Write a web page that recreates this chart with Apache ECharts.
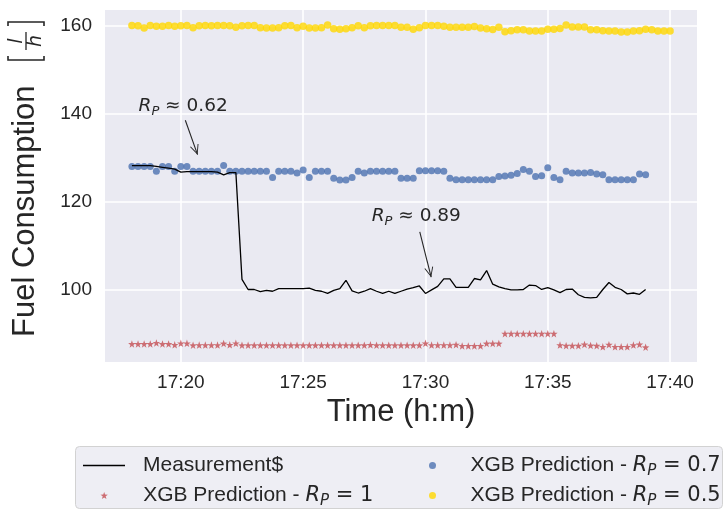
<!DOCTYPE html>
<html>
<head>
<meta charset="utf-8">
<script src="https://cdn.jsdelivr.net/npm/echarts@6/dist/echarts.min.js"></script>
<style>
  html, body { margin: 0; padding: 0; background: #ffffff; }
  #chart { width: 727px; height: 514px; }
</style>
</head>
<body>
<div id="chart"></div>
<script>
// Readings are logged every 15 s, starting at 17:18:00
const sampleStart = '17:18:00';
const sampleStepSeconds = 15;

// Measured fuel consumption [l/h]
const measurement = [
  128.2, 128.2, 128.2, 128.2, 128.0, 127.8, 127.6, 127.4, 126.7, 126.8,
  126.8, 126.8, 126.8, 126.8, 126.7, 126.1, 126.6, 126.6, 102.3, 100.0,
  100.0, 99.5, 99.8, 99.6, 100.2, 100.2, 100.2, 100.2, 100.2, 100.3,
  99.8, 99.6, 99.1, 99.8, 100.2, 102.1, 99.7, 99.2, 99.6, 100.2,
  99.6, 99.1, 99.6, 99.1, 99.6, 100.1, 100.4, 100.8, 99.1, 99.9,
  100.7, 102.4, 102.4, 100.5, 100.5, 100.5, 102.5, 102.2, 104.3, 101.2,
  100.6, 100.2, 99.9, 99.9, 100.0, 101.0, 100.9, 100.0, 100.4, 99.9,
  99.3, 100.0, 100.1, 98.8, 98.2, 98.1, 98.2, 100.0, 101.6, 100.5,
  100.0, 99.0, 99.2, 98.9, 100.0
];

// XGB prediction, R_P = 1
const predRp1 = [
  87.6, 87.6, 87.6, 87.6, 87.85, 87.6, 87.6, 87.4, 87.75, 87.75,
  87.3, 87.35, 87.35, 87.35, 87.35, 87.7, 87.4, 87.75, 87.3, 87.3,
  87.3, 87.3, 87.3, 87.3, 87.3, 87.3, 87.3, 87.3, 87.3, 87.3,
  87.3, 87.3, 87.3, 87.3, 87.3, 87.3, 87.3, 87.3, 87.3, 87.4,
  87.3, 87.3, 87.3, 87.3, 87.3, 87.3, 87.3, 87.3, 87.75, 87.35,
  87.35, 87.35, 87.35, 87.45, 87.15, 87.15, 87.15, 87.15, 87.7, 87.7,
  87.7, 89.95, 89.95, 89.95, 89.95, 89.95, 89.95, 89.95, 89.95, 89.95,
  87.35, 87.2, 87.2, 87.2, 87.5, 87.25, 87.2, 86.95, 87.45, 86.95,
  86.95, 86.95, 87.35, 87.5, 86.85
];

// XGB prediction, R_P = 0.7
const predRp07 = [
  128.0, 128.0, 128.0, 128.0, 126.9, 128.0, 128.0, 126.9, 128.0, 128.0,
  126.9, 126.9, 126.9, 126.9, 126.9, 128.2, 126.9, 126.9, 126.9, 126.9,
  126.9, 126.9, 126.9, 125.5, 126.9, 126.9, 126.9, 126.5, 127.2, 125.5,
  126.9, 126.9, 126.9, 125.3, 124.9, 124.9, 125.5, 126.9, 126.5, 126.9,
  126.9, 126.9, 126.9, 126.9, 125.3, 125.3, 125.3, 127.0, 127.0, 127.0,
  127.0, 126.9, 125.3, 125.0, 125.0, 125.0, 125.0, 125.0, 125.0, 125.0,
  125.7, 125.8, 126.0, 126.4, 127.3, 126.9, 125.7, 125.9, 127.7, 125.5,
  125.0, 126.9, 126.5, 126.5, 126.5, 126.6, 126.3, 126.1, 125.0, 125.0,
  125.0, 125.0, 125.0, 126.3, 126.1
];

// XGB prediction, R_P = 0.5
const predRp05 = [
  160.08, 160.0, 159.5, 160.08, 159.92, 159.92, 160.08, 159.92, 160.0, 160.08,
  159.58, 160.0, 160.08, 160.0, 160.08, 160.08, 160.0, 159.66, 160.0, 160.08,
  160.08, 159.58, 159.5, 159.5, 159.58, 160.0, 160.08, 159.58, 159.92, 159.5,
  159.5, 159.58, 160.17, 159.33, 159.24, 159.33, 159.58, 160.0, 159.58, 160.0,
  160.08, 160.08, 160.08, 160.08, 159.66, 159.66, 159.24, 159.58, 160.08, 160.08,
  160.08, 159.92, 159.66, 159.66, 159.66, 159.66, 159.83, 159.5, 159.33, 159.16,
  159.66, 158.66, 158.9, 159.08, 159.08, 158.82, 158.82, 158.82, 159.24, 159.24,
  159.41, 160.17, 159.75, 159.75, 159.75, 159.08, 159.08, 158.9, 158.82, 158.82,
  158.57, 158.57, 158.82, 158.9, 159.24, 159.08, 158.82, 158.82, 158.82
];

// Axis ticks
const xTickLabels = ['17:20', '17:25', '17:30', '17:35', '17:40'];
const yTickValues = [100, 120, 140, 160];

// Annotations: correlation values with the arrow that points at the curve
const annotationValues = ['0.62', '0.89'];
const annotationTextAt = [['17:18:15', 141.7], ['17:27:47', 116.6]];
const arrowFrom = [['17:20:11', 138.5], ['17:29:46', 113.1]];
const arrowTo = [['17:20:41', 130.7], ['17:30:14', 102.8]];

// ---------------------------------------------------------------------
const SANS = '"Liberation Sans", Arial, sans-serif';
const MATH = '"DejaVu Sans", sans-serif';
const INK = '#262626';

// clock string -> minutes after midnight
function toMinutes(clock) {
  const p = clock.split(':').map(Number);
  return p[0] * 60 + p[1] + (p[2] || 0) / 60;
}
function fmtClock(v) {
  const h = Math.floor(v / 60);
  const m = Math.round(v - h * 60);
  return h + ':' + (m < 10 ? '0' : '') + m;
}
const t0 = toMinutes(sampleStart);
const stepMin = sampleStepSeconds / 60;
const withTime = (arr) => arr.map((v, i) => [t0 + i * stepMin, v]);

const xTickValues = xTickLabels.map(toMinutes);

// rich-text styles for labels with an italic R and subscript P
function mathRich(size, lh) {
  const subSize = Math.round(size * 0.7);
  const drop = Math.round(size * 0.58);
  return {
    txt: { fontFamily: SANS, fontSize: size, color: INK, lineHeight: lh },
    mi: { fontFamily: MATH, fontStyle: 'italic', fontSize: size, color: INK, lineHeight: lh },
    sub: { fontFamily: MATH, fontStyle: 'italic', fontSize: subSize,
           color: INK, lineHeight: subSize, padding: [drop, 0, 0, 0] },
    mn: { fontFamily: MATH, fontSize: size, color: INK, lineHeight: lh }
  };
}

function legendText(name) {
  const m = name.match(/^(.*)R_P = (.*)$/);
  if (!m) return '{txt|' + name + '}';
  return '{txt|' + m[1] + '}{mi|R}{sub|P}{mn| = ' + m[2] + '}';
}

const starPath = 'path://M0,-10L2.35,-3.24L9.51,-3.09L3.8,1.24L5.88,8.09L0,4L-5.88,8.09L-3.8,1.24L-9.51,-3.09L-2.35,-3.24Z';
// open arrow head, tip at the centre of the symbol box
const arrowHead = 'path://M0,-12L0.01,-12L0,-11.99Z M0,0L-4.6,12L-3.7,12.3L0,2.6L3.7,12.3L4.6,12Z';
// plain line sample for the measurement legend entry
const lineIcon = 'path://M0,0H42V1.3H0Z';

const NAME_MEAS = 'Measurement$';
const NAME_R1 = 'XGB Prediction - R_P = 1';
const NAME_R07 = 'XGB Prediction - R_P = 0.7';
const NAME_R05 = 'XGB Prediction - R_P = 0.5';

// one legend box per entry, laid out on a two-column grid
// (a legend box is placed by the left edge of what it draws)
function legendEntry(item, left, top, textPad) {
  return {
    data: [item],
    left: left, top: top,
    padding: 0,
    itemWidth: 42, itemHeight: 7,
    formatter: legendText,
    textStyle: { padding: [0, 0, 0, textPad], rich: mathRich(21, 24) },
    selectedMode: false,
    z: 5
  };
}

const chart = echarts.init(document.getElementById('chart'));

const option = {
  animation: false,
  backgroundColor: '#ffffff',
  grid: {
    left: 105, right: 30, top: 10, bottom: 152,
    show: true, backgroundColor: '#eaeaf2', borderWidth: 0
  },
  xAxis: {
    type: 'value',
    min: toMinutes('17:16:54'),
    max: toMinutes('17:41:06'),
    axisLine: { show: false },
    axisTick: { show: false, customValues: xTickValues },
    axisLabel: {
      customValues: xTickValues,
      formatter: fmtClock,
      color: INK, fontFamily: SANS, fontSize: 19, margin: 11
    },
    splitLine: { show: true, lineStyle: { color: '#ffffff', width: 1.6 } },
    name: 'Time (h:m)',
    nameLocation: 'middle',
    nameGap: 31,
    nameTextStyle: { color: INK, fontFamily: SANS, fontSize: 31 }
  },
  yAxis: {
    type: 'value',
    min: 83.5,
    max: 163.6,
    axisLine: { show: false },
    axisTick: { show: false, customValues: yTickValues },
    axisLabel: {
      customValues: yTickValues,
      color: INK, fontFamily: SANS, fontSize: 19, margin: 13
    },
    splitLine: { show: true, lineStyle: { color: '#ffffff', width: 1.6 } }
  },
  legend: [
    legendEntry({ name: NAME_MEAS, icon: lineIcon }, 83, 455, 13),
    legendEntry(NAME_R1, 100.5, 482, 13),
    legendEntry(NAME_R07, 429, 452, 12),
    legendEntry(NAME_R05, 429, 482, 12)
  ],
  graphic: [
    // legend frame
    {
      type: 'rect', z: 1, silent: true,
      shape: { x: 75.5, y: 446.5, width: 647, height: 62, r: 4 },
      style: { fill: '#eeeef4', stroke: '#d2d2d2', lineWidth: 1 }
    },
    // y-axis title: Fuel Consumption [l / h]
    {
      type: 'group', x: 25, y: 337, rotation: Math.PI / 2, z: 10, silent: true,
      children: [
        { type: 'text', x: 0, y: 0,
          style: { text: 'Fuel Consumption', font: '31px ' + SANS, fill: INK,
                   align: 'left', verticalAlign: 'middle' } },
        { type: 'polyline',
          shape: { points: [[281, -17], [277, -17], [277, 19], [281, 19]] },
          style: { stroke: INK, lineWidth: 1.6, fill: 'none' } },
        { type: 'text', x: 296, y: -8,
          style: { text: 'l', font: 'italic 19px ' + MATH, fill: INK,
                   align: 'center', verticalAlign: 'middle' } },
        { type: 'line', shape: { x1: 287, y1: 1, x2: 305, y2: 1 },
          style: { stroke: INK, lineWidth: 1.3 } },
        { type: 'text', x: 296, y: 11,
          style: { text: 'h', font: 'italic 19px ' + MATH, fill: INK,
                   align: 'center', verticalAlign: 'middle' } },
        { type: 'polyline',
          shape: { points: [[311, -17], [315, -17], [315, 19], [311, 19]] },
          style: { stroke: INK, lineWidth: 1.6, fill: 'none' } }
      ]
    }
  ],
  series: [
    {
      name: NAME_MEAS,
      type: 'line',
      data: withTime(measurement),
      symbol: 'none',
      lineStyle: { color: '#000000', width: 1.3 },
      itemStyle: { color: '#000000' },
      z: 5,
      markLine: {
        silent: true,
        symbol: ['none', arrowHead],
        symbolSize: [9, 20],
        lineStyle: { color: INK, width: 1.1, type: 'solid' },
        label: { show: false },
        data: arrowFrom.map((p, i) => [
          { coord: [toMinutes(p[0]), p[1]] },
          { coord: [toMinutes(arrowTo[i][0]), arrowTo[i][1]] }
        ])
      },
      markPoint: {
        silent: true,
        symbol: 'circle',
        symbolSize: 1,
        itemStyle: { color: 'rgba(0,0,0,0)' },
        data: annotationTextAt.map((p, i) => ({
          coord: [toMinutes(p[0]), p[1]],
          label: {
            show: true,
            position: 'right',
            distance: 0,
            formatter: '{mi|R}{sub|P}{mn| ≈ ' + annotationValues[i] + '}',
            rich: mathRich(18.5, 24)
          }
        }))
      }
    },
    {
      name: NAME_R1,
      type: 'scatter',
      data: withTime(predRp1),
      symbol: starPath,
      symbolSize: 7.5,
      itemStyle: { color: '#c44e52' },
      z: 3
    },
    {
      name: NAME_R07,
      type: 'scatter',
      data: withTime(predRp07),
      symbol: 'circle',
      symbolSize: 7,
      itemStyle: { color: '#4c72b0' },
      z: 3
    },
    {
      name: NAME_R05,
      type: 'scatter',
      data: withTime(predRp05),
      symbol: 'circle',
      symbolSize: 7.5,
      itemStyle: { color: '#ffd700' },
      z: 3
    }
  ]
};

chart.setOption(option);
</script>
</body>
</html>
